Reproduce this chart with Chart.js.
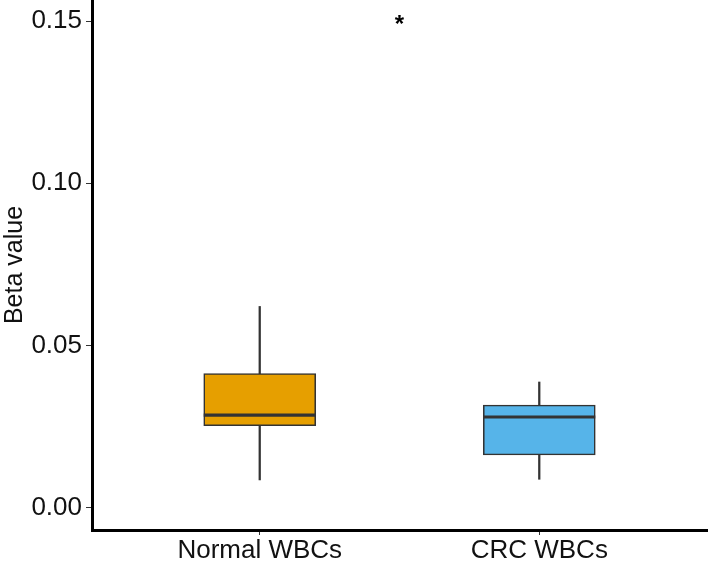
<!DOCTYPE html>
<html>
<head>
<meta charset="utf-8">
<script src="https://cdn.jsdelivr.net/npm/chart.js@4/dist/chart.umd.min.js"></script>
<style>
  html, body { margin: 0; padding: 0; background: #fff; }
  #wrap { width: 709px; height: 566px; }
</style>
</head>
<body>
<div id="wrap"><canvas id="chart"></canvas></div>
<script>
// groups and their box stats
const groups = ["Normal WBCs", "CRC WBCs"];
const groupX = [1, 2];
const whiskerLow = [0.0085, 0.0087];
const q1 = [0.0252, 0.0162];
const median = [0.0285, 0.0279];
const q3 = [0.0413, 0.0316];
const whiskerHigh = [0.0620, 0.0387];
const boxColors = ["#E69F00", "#56B4E9"];

const yTicks = [0, 0.05, 0.10, 0.15];

// significance mark
const markX = [1.5];
const markY = [0.151];
const markText = ["*"];

const FONT = "'Liberation Sans', Arial, sans-serif";
const INK = "#333333";

// median lines + asterisk, drawn on top through the scales
const boxExtras = {
  id: "boxExtras",
  afterDatasetsDraw(chart) {
    const { ctx, scales } = chart;
    const boxMeta = chart.getDatasetMeta(1);
    ctx.save();
    ctx.strokeStyle = INK;
    ctx.lineWidth = 3.2;
    median.forEach((m, i) => {
      const bar = boxMeta.data[i];
      const y = scales.y.getPixelForValue(m);
      ctx.beginPath();
      ctx.moveTo(bar.x - bar.width / 2, y);
      ctx.lineTo(bar.x + bar.width / 2, y);
      ctx.stroke();
    });
    ctx.fillStyle = "#000";
    ctx.font = "bold 24px " + FONT;
    ctx.textAlign = "center";
    ctx.textBaseline = "alphabetic";
    markText.forEach((t, i) => {
      const px = scales.x.getPixelForValue(markX[i]);
      const py = scales.y.getPixelForValue(markY[i]);
      ctx.fillText(t, px, py + 0.57 * 24);
    });
    ctx.restore();
  }
};

new Chart(document.getElementById("chart"), {
  type: "bar",
  data: {
    datasets: [
      {
        label: "whisker",
        data: groupX.map((x, i) => ({ x, y: [whiskerLow[i], whiskerHigh[i]] })),
        backgroundColor: INK,
        borderWidth: 0,
        barThickness: 1.6,
        grouped: false,
        order: 2,
      },
      {
        label: "box",
        data: groupX.map((x, i) => ({ x, y: [q1[i], q3[i]] })),
        backgroundColor: boxColors,
        borderColor: INK,
        borderWidth: 1.6,
        borderSkipped: false,
        barThickness: 112,
        grouped: false,
        order: 1,
      },
    ],
  },
  options: {
    responsive: true,
    maintainAspectRatio: false,
    animation: false,
    layout: { padding: { top: 0, right: 2, bottom: 0, left: 0 } },
    plugins: { legend: { display: false }, tooltip: { enabled: false } },
    scales: {
      x: {
        type: "linear",
        min: 0.4,
        max: 2.6,
        offset: false,
        afterBuildTicks: (scale) => { scale.ticks = groupX.map(v => ({ value: v })); },
        afterFit: (scale) => { scale.height = 36; scale.paddingLeft = 0; scale.paddingRight = 0; },
        ticks: {
          callback: (v) => groups[groupX.indexOf(v)] ?? "",
          color: "#111",
          font: { family: FONT, size: 26 },
          padding: 0,
          maxRotation: 0,
          autoSkip: false,
        },
        grid: { offset: false, drawOnChartArea: false, drawTicks: true, tickLength: 5, color: INK, lineWidth: 1 },
        border: { display: true, color: "#000", width: 3 },
      },
      y: {
        min: -0.00694,
        max: 0.1565,
        afterBuildTicks: (scale) => { scale.ticks = yTicks.map(v => ({ value: v })); },
        afterFit: (scale) => { scale.width = 92; scale.paddingTop = 0; scale.paddingBottom = 0; },
        ticks: {
          callback: (v) => v.toFixed(2),
          color: "#111",
          font: { family: FONT, size: 26 },
          padding: 4,
        },
        grid: { drawOnChartArea: false, drawTicks: true, tickLength: 6, color: INK, lineWidth: 1 },
        border: { display: true, color: "#000", width: 3 },
        title: {
          display: true,
          text: "Beta value",
          color: "#111",
          font: { family: FONT, size: 25 },
          padding: { top: 0, bottom: 0 },
        },
      },
    },
  },
  plugins: [boxExtras],
});
</script>
</body>
</html>
